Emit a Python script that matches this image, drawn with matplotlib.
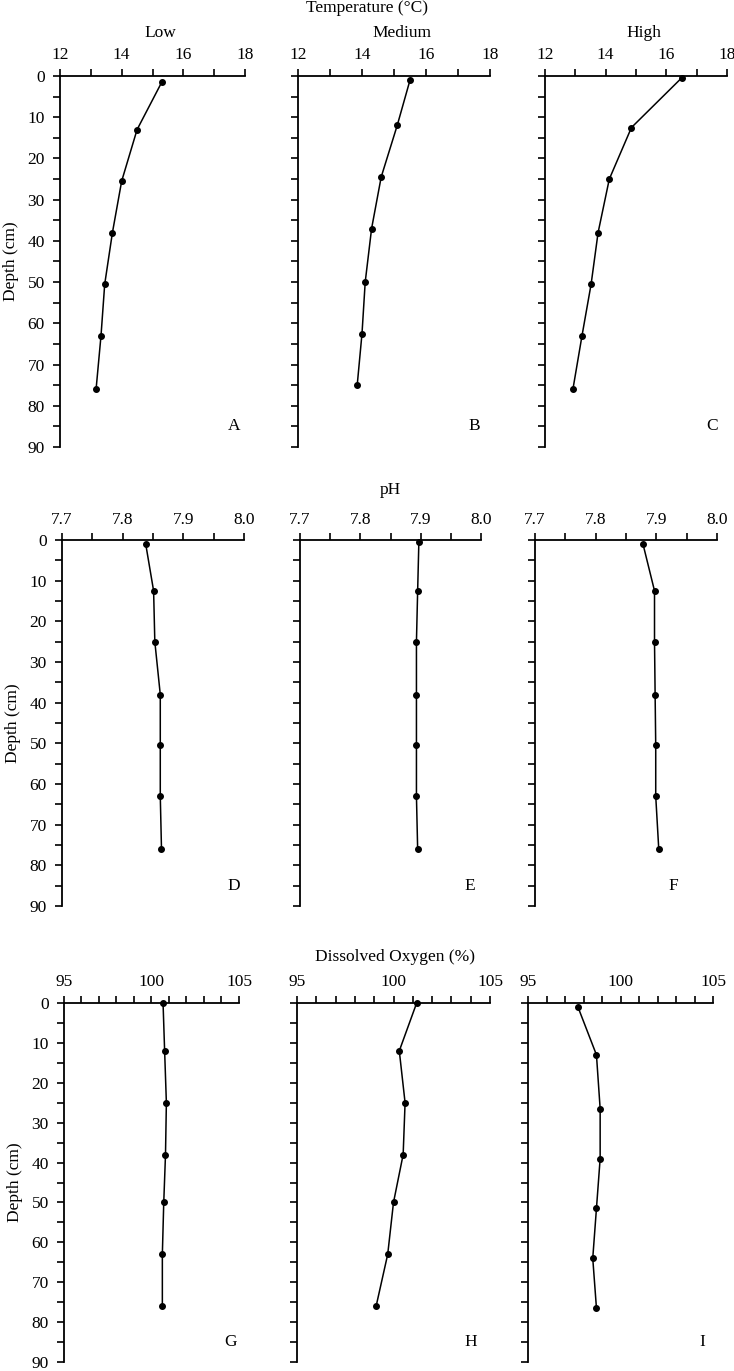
import matplotlib
matplotlib.use("Agg")
import matplotlib.pyplot as plt
from matplotlib.ticker import MultipleLocator

plt.rcParams['font.family'] = ['Liberation Serif', 'DejaVu Serif']
plt.rcParams['font.size'] = 12

# ---- data ----
temp_depth_A = [1.5, 13, 25.5, 38, 50.5, 63, 76]
temp_A = [15.3, 14.5, 14.0, 13.7, 13.45, 13.33, 13.17]
temp_depth_B = [1, 12, 24.5, 37, 50, 62.5, 75]
temp_B = [15.5, 15.1, 14.6, 14.3, 14.1, 14.0, 13.85]
temp_depth_C = [0.5, 12.5, 25, 38, 50.5, 63, 76]
temp_C = [16.5, 14.85, 14.12, 13.75, 13.52, 13.22, 12.92]

ph_depth_D = [1, 12.5, 25, 38, 50.5, 63, 76]
ph_D = [7.838, 7.851, 7.853, 7.862, 7.862, 7.862, 7.864]
ph_depth_E = [0.5, 12.5, 25, 38, 50.5, 63, 76]
ph_E = [7.897, 7.895, 7.893, 7.893, 7.893, 7.893, 7.895]
ph_depth_F = [1, 12.5, 25, 38, 50.5, 63, 76]
ph_F = [7.878, 7.897, 7.897, 7.898, 7.899, 7.899, 7.904]

do_depth_G = [0, 12, 25, 38, 50, 63, 76]
do_G = [100.66, 100.75, 100.85, 100.8, 100.7, 100.62, 100.62]
do_depth_H = [0, 12, 25, 38, 50, 63, 76]
do_H = [101.2, 100.3, 100.6, 100.5, 100.0, 99.7, 99.1]
do_depth_I = [1, 13, 26.5, 39, 51.5, 64, 76.5]
do_I = [97.7, 98.7, 98.9, 98.9, 98.7, 98.5, 98.7]

col_titles = ["Low", "Medium", "High"]
row_titles = ["Temperature (°C)", "pH", "Dissolved Oxygen (%)"]
panel_letters = ["A", "B", "C", "D", "E", "F", "G", "H", "I"]

W, H = 734, 1371
fig = plt.figure(figsize=(W / 100, H / 100), dpi=100)

def add_ax(x0, x1, y0, y1):
    return fig.add_axes([x0 / W, 1 - y1 / H, (x1 - x0) / W, (y1 - y0) / H])

rows = [
    dict(y=(76, 447), cols=[(60, 245), (298, 490), (545, 727)],
         xlim=(12, 18), major=2, minor=1, fmt="{:.0f}",
         data=[(temp_A, temp_depth_A), (temp_B, temp_depth_B), (temp_C, temp_depth_C)],
         letter_x=[0.94, 0.92, 0.92]),
    dict(y=(540, 906), cols=[(62, 244), (300, 481), (535, 717)],
         xlim=(7.7, 8.0), major=0.1, minor=0.05, fmt="{:.1f}",
         data=[(ph_D, ph_depth_D), (ph_E, ph_depth_E), (ph_F, ph_depth_F)],
         letter_x=[0.945, 0.94, 0.76]),
    dict(y=(1003, 1362), cols=[(64, 239), (297, 490), (528, 713)],
         xlim=(95, 105), major=5, minor=1, fmt="{:.0f}",
         data=[(do_G, do_depth_G), (do_H, do_depth_H), (do_I, do_depth_I)],
         letter_x=[0.95, 0.9, 0.94]),
]

k = 0
for r, row in enumerate(rows):
    y0, y1 = row["y"]
    for c, (x0, x1) in enumerate(row["cols"]):
        ax = add_ax(x0, x1, y0, y1)
        xs, ds = row["data"][c]
        ax.plot(xs, ds, color="black", lw=1.1, marker="o", ms=4, clip_on=False)
        ax.set_xlim(*row["xlim"])
        ax.set_ylim(90, 0)
        ax.spines['right'].set_visible(False)
        ax.spines['bottom'].set_visible(False)
        for s in ['left', 'top']:
            ax.spines[s].set_linewidth(1.3)
        ax.xaxis.tick_top()
        ax.xaxis.set_major_locator(MultipleLocator(row["major"]))
        ax.xaxis.set_minor_locator(MultipleLocator(row["minor"]))
        ax.yaxis.set_major_locator(MultipleLocator(10))
        ax.yaxis.set_minor_locator(MultipleLocator(5))
        lo, hi = row["xlim"]
        ticks = []
        v = lo
        while v <= hi + 1e-9:
            ticks.append(round(v, 4))
            v += row["major"]
        ax.set_xticks(ticks)
        ax.set_xticklabels([row["fmt"].format(t) for t in ticks])
        ax.tick_params(axis='both', which='major', length=5, width=1.2,
                       direction='out', labelsize=12.5, pad=6)
        ax.tick_params(axis='both', which='minor', length=5, width=1.2,
                       direction='out')
        ax.tick_params(axis='x', which='major', pad=4)
        if c == 0:
            ax.set_yticks(range(0, 91, 10))
            ax.set_ylabel("Depth (cm)", fontsize=12.5, labelpad=6)
        else:
            ax.set_yticklabels([])
        ax.text(row["letter_x"][c], 85, panel_letters[k],
                transform=ax.get_yaxis_transform(), ha="center", va="center",
                fontsize=12.5)
        ax.patch.set_visible(False)
        k += 1
        if r == 0:
            fig.text(((x0 + x1) / 2 + 8) / W, 1 - 33 / H, col_titles[c],
                     ha="center", va="center", fontsize=12.5)

fig.text(367 / W, 1 - 8 / H, row_titles[0], ha="center", va="center", fontsize=12.5)
fig.text(390 / W, 1 - 490 / H, row_titles[1], ha="center", va="center", fontsize=12.5)
fig.text(395 / W, 1 - 957 / H, row_titles[2], ha="center", va="center", fontsize=12.5)

fig.savefig("out.png", dpi=100)
